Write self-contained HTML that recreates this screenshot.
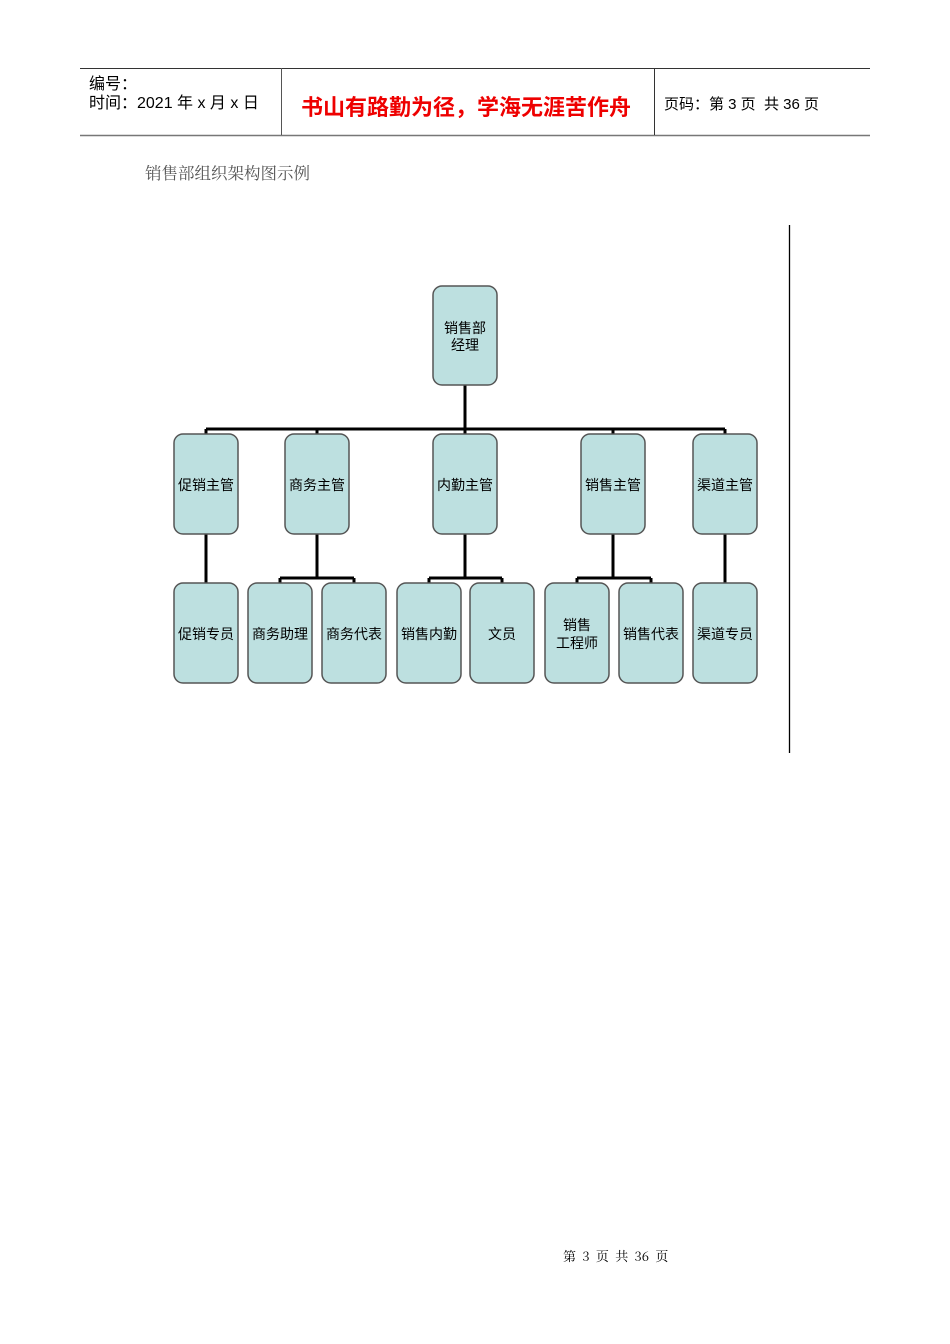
<!DOCTYPE html>
<html><head><meta charset="utf-8"><style>
body{margin:0;width:950px;height:1344px;background:#fff;position:relative;font-family:"Liberation Sans","Noto Sans CJK SC",sans-serif;}
.t{position:absolute;white-space:nowrap;}
</style></head><body>
<svg width="950" height="1344" style="position:absolute;left:0;top:0">
<line x1="80" y1="68.5" x2="870" y2="68.5" stroke="#333" stroke-width="1"/>
<line x1="80" y1="135.5" x2="870" y2="135.5" stroke="#777" stroke-width="1.5"/>
<line x1="281.5" y1="68" x2="281.5" y2="135" stroke="#555"/>
<line x1="654.5" y1="68" x2="654.5" y2="135" stroke="#333"/>
<line x1="789.5" y1="225" x2="789.5" y2="753" stroke="#000" stroke-width="1.3"/>
<g stroke="#000" stroke-width="3" fill="none">
<line x1="465" y1="385" x2="465" y2="434"/>
<line x1="206" y1="429" x2="725" y2="429"/>
<line x1="206" y1="429" x2="206" y2="434"/><line x1="317" y1="429" x2="317" y2="434"/><line x1="613" y1="429" x2="613" y2="434"/><line x1="725" y1="429" x2="725" y2="434"/>
<line x1="206" y1="534" x2="206" y2="583"/>
<line x1="725" y1="534" x2="725" y2="583"/>
<line x1="317" y1="534" x2="317" y2="578"/><line x1="280" y1="578" x2="354" y2="578"/><line x1="280" y1="578" x2="280" y2="583"/><line x1="354" y1="578" x2="354" y2="583"/>
<line x1="465" y1="534" x2="465" y2="578"/><line x1="429" y1="578" x2="502" y2="578"/><line x1="429" y1="578" x2="429" y2="583"/><line x1="502" y1="578" x2="502" y2="583"/>
<line x1="613" y1="534" x2="613" y2="578"/><line x1="577" y1="578" x2="651" y2="578"/><line x1="577" y1="578" x2="577" y2="583"/><line x1="651" y1="578" x2="651" y2="583"/>
</g>
<g fill="#bde0e0" stroke="#555" stroke-width="1.5">
<rect x="433" y="286" width="64" height="99" rx="9"/>
<rect x="174" y="434" width="64" height="100" rx="9"/>
<rect x="285" y="434" width="64" height="100" rx="9"/>
<rect x="433" y="434" width="64" height="100" rx="9"/>
<rect x="581" y="434" width="64" height="100" rx="9"/>
<rect x="693" y="434" width="64" height="100" rx="9"/>
<rect x="174" y="583" width="64" height="100" rx="9"/>
<rect x="248" y="583" width="64" height="100" rx="9"/>
<rect x="322" y="583" width="64" height="100" rx="9"/>
<rect x="397" y="583" width="64" height="100" rx="9"/>
<rect x="470" y="583" width="64" height="100" rx="9"/>
<rect x="545" y="583" width="64" height="100" rx="9"/>
<rect x="619" y="583" width="64" height="100" rx="9"/>
<rect x="693" y="583" width="64" height="100" rx="9"/>
</g>
<g font-family="Liberation Sans,Noto Sans CJK SC,sans-serif" font-size="14" text-anchor="middle" fill="#000">
<text x="465" y="333">销售部</text><text x="465" y="350">经理</text>
<text x="206" y="490">促销主管</text><text x="317" y="490">商务主管</text><text x="465" y="490">内勤主管</text><text x="613" y="490">销售主管</text><text x="725" y="490">渠道主管</text>
<text x="206" y="639">促销专员</text><text x="280" y="639">商务助理</text><text x="354" y="639">商务代表</text><text x="429" y="639">销售内勤</text><text x="502" y="639">文员</text>
<text x="577" y="630">销售</text><text x="577" y="648">工程师</text>
<text x="651" y="639">销售代表</text><text x="725" y="639">渠道专员</text>
</g>
</svg>
<div class="t" style="left:89px;top:70px;font-size:16px;">编号：</div>
<div class="t" style="left:89px;top:89px;font-size:16px;">时间：2021 年 x 月 x 日</div>
<div class="t" style="left:301px;top:90px;font-size:22px;color:#e00;font-weight:bold;">书山有路勤为径，学海无涯苦作舟</div>
<div class="t" style="left:664px;top:93px;font-size:15px;">页码：第 3 页 &nbsp;共 36 页</div>
<div class="t" style="left:145px;top:160px;font-size:16.5px;color:#555;font-family:'Noto Serif CJK SC',serif;">销售部组织架构图示例</div>
<div class="t" style="left:563px;top:1246px;font-size:13px;font-family:'Noto Serif CJK SC',serif;word-spacing:3px;">第 3 页 共 36 页</div>
</body></html>
